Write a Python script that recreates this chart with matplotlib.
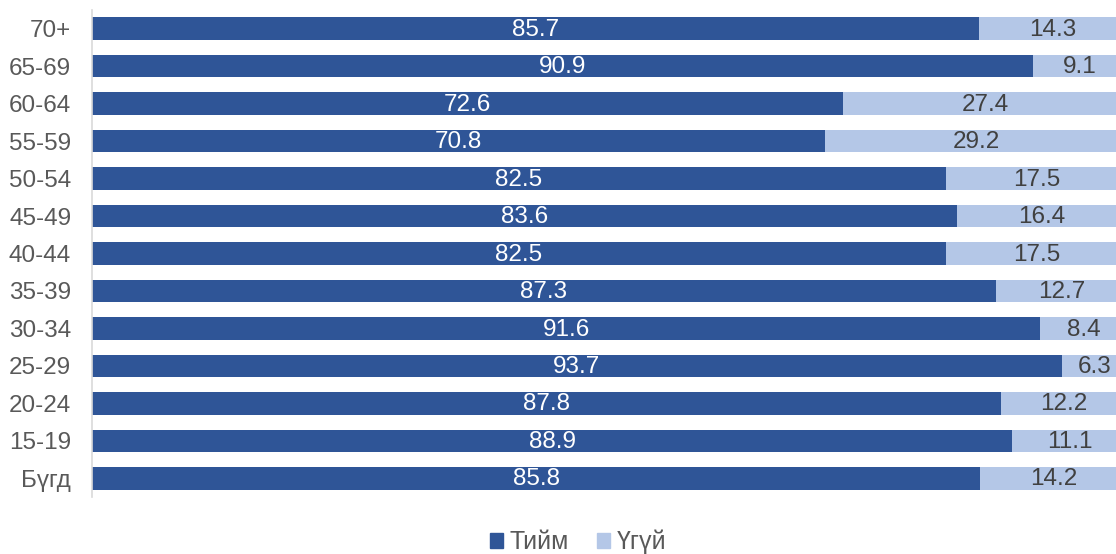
import matplotlib.pyplot as plt
from matplotlib.patches import Patch

plt.rcParams['font.family'] = ['Liberation Sans', 'DejaVu Sans']

categories = ['Бүгд', '15-19', '20-24', '25-29', '30-34', '35-39', '40-44',
              '45-49', '50-54', '55-59', '60-64', '65-69', '70+']
yes_vals = [85.8, 88.9, 87.8, 93.7, 91.6, 87.3, 82.5, 83.6, 82.5, 70.8, 72.6, 90.9, 85.7]
no_vals = [14.2, 11.1, 12.2, 6.3, 8.4, 12.7, 17.5, 16.4, 17.5, 29.2, 27.4, 9.1, 14.3]
series_names = ['Тийм', 'Үгүй']

dark = '#2F5597'
light = '#B4C7E7'

W, H = 1116, 554
fig = plt.figure(figsize=(W / 100, H / 100), dpi=100)
# the plot area runs past the right edge of the picture, as in the reference
ax = fig.add_axes([92 / W, 1 - 497 / H, 1035 / W, 487 / H])

y = range(len(categories))
b1 = ax.barh(y, yes_vals, height=0.6, color=dark)
b2 = ax.barh(y, no_vals, left=yes_vals, height=0.6, color=light)

for bar, v in zip(b1, yes_vals):
    ax.text(bar.get_x() + bar.get_width() / 2, bar.get_y() + bar.get_height() / 2 - 0.03,
            f'{v:.1f}', ha='center', va='center', color='white', fontsize=17.5)
for bar, v in zip(b2, no_vals):
    ax.text(bar.get_x() + bar.get_width() / 2, bar.get_y() + bar.get_height() / 2 - 0.03,
            f'{v:.1f}', ha='center', va='center', color='#404040', fontsize=17.5)

ax.set_xlim(0, 100)
ax.set_ylim(-0.5, len(categories) - 0.5)
ax.set_yticks(list(y))
ax.set_yticklabels(categories, fontsize=17.5, color='#595959')
ax.tick_params(axis='y', length=0, pad=15)
ax.set_xticks([])
for s in ['top', 'right', 'bottom']:
    ax.spines[s].set_visible(False)
ax.spines['left'].set_color('#D9D9D9')
ax.spines['left'].set_linewidth(1.2)

handles = [Patch(color=dark), Patch(color=light)]
fig.legend(handles, series_names, loc='center', bbox_to_anchor=(578 / W, 1 - 542 / H),
           ncol=2, frameon=False, fontsize=18, handlelength=0.55, handleheight=0.55,
           handletextpad=0.25, columnspacing=1.1, labelcolor='#595959')

fig.savefig('out.png', dpi=100)
